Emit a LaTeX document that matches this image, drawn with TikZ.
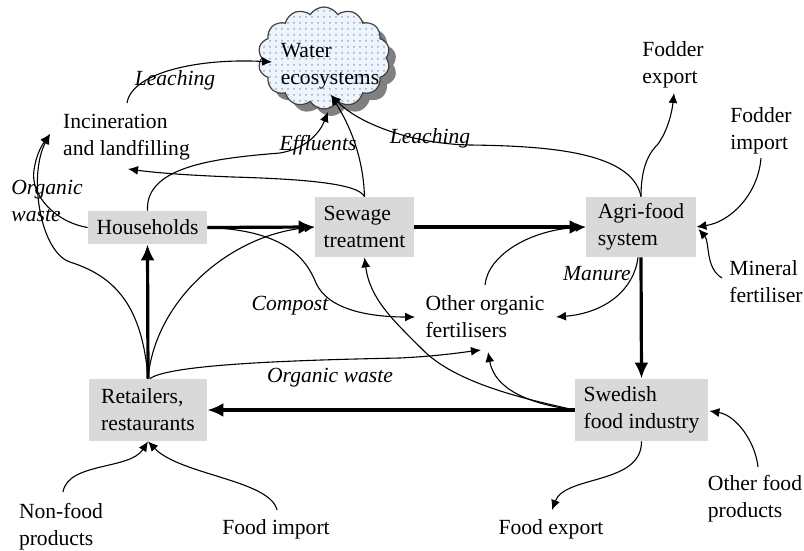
\documentclass[tikz,border=0pt]{standalone}
\usepackage{fontspec}
\setmainfont{Liberation Serif}
\usetikzlibrary{arrows.meta,shapes.symbols,patterns}
\definecolor{boxgrey}{gray}{0.85}
\definecolor{cloudfill}{RGB}{238,244,252}
\definecolor{clouddot}{RGB}{150,170,200}
\definecolor{shadowgrey}{gray}{0.5}
\begin{document}
\begin{tikzpicture}[x=0.5pt,y=-0.5pt,
  every node/.style={font=\fontsize{10.8pt}{13.5pt}\selectfont, inner sep=0pt, align=left},
  box/.style={fill=boxgrey},
  lab/.style={font=\fontsize{10.8pt}{13.5pt}\selectfont\itshape},
  cloudshape/.style={cloud, cloud puffs=14, cloud puff arc=115, cloud ignores aspect,
    minimum width=66pt, minimum height=51pt},
  flow/.style={line width=0.55pt, -{Latex[length=5pt,width=4.5pt]}},
  mainflow/.style={line width=1.6pt, -{Latex[length=8pt,width=7pt]}}]
\useasboundingbox (0,0) rectangle (804,551);

% cloud
\node[cloudshape, fill=shadowgrey] (watershadow) at (331,65) {};
\node[cloudshape, draw=black!75, line width=0.6pt, preaction={fill=cloudfill},
  pattern=dots, pattern color=clouddot] (water) at (324,58) {};
\node (watertext) at (330,66) {Water\\ecosystems};

% boxes
\node[box, minimum width=59.5pt, minimum height=16.5pt] (households) at (147.5,227.5) {Households};
\node[box, minimum width=49.5pt, minimum height=30pt] (sewage) at (364.5,227) {Sewage\\treatment};
\node[box, minimum width=55pt, minimum height=30pt] (agri) at (641,227) {Agri-food\\system};
\node[box, minimum width=59pt, minimum height=31pt] (retailers) at (148,410) {Retailers,\\restaurants};
\node[box, minimum width=66.5pt, minimum height=31pt] (swedish) at (641.5,410) {Swedish\\food industry};

% plain texts
\node (incin) at (126.5,137.5) {Incineration\\and landfilling};
\node (fodderexp) at (673,65) {Fodder\\export};
\node (fodderimp) at (761,131) {Fodder\\import};
\node (mineral) at (766,282) {Mineral\\fertiliser};
\node (otherorg) at (485,317) {Other organic\\fertilisers};
\node (nonfood) at (61,527) {Non-food\\products};
\node (foodimp) at (276,529) {Food import};
\node (foodexp) at (551,529) {Food export};
\node (otherfood) at (755,499) {Other food\\products};

% labels
\node[lab] (leach1) at (175,80) {Leaching};
\node[lab] (effl) at (318,145) {Effluents};
\node[lab] (leach2) at (430,138) {Leaching};
\node[lab] (orgw1) at (47,201) {Organic\\waste};
\node[lab] (manure) at (597,274) {Manure};
\node[lab] (compost) at (290,306) {Compost};
\node[lab] (orgw2) at (330,378) {Organic waste};

% thin flows
\draw[flow] ([shift={(0.5,-34.5)}]incin.center) .. controls (132,72) and (200,58) .. ([shift={(-52,4)}]water.center);
\draw[flow] (households.north) .. controls (145,165) and (220,158) .. (280,153) .. controls (308,148) and (320,132) .. ([shift={(4,54)}]water.center);
\draw[flow] (sewage.north) .. controls (363,150) and (345,118) .. ([shift={(7,37)}]water.center);
\draw[flow] (agri.north) .. controls (632,150) and (540,146) .. (470,145) .. controls (415,144) and (360,125) .. ([shift={(7,37)}]water.center);
\draw[flow] (sewage.north) .. controls (358,183) and (300,179) .. (233,177) .. controls (180,175) and (150,172) .. ([shift={(1.5,31.5)}]incin.center);
\draw[flow] (retailers.north) .. controls (142,300) and (110,275) .. (70,262) .. controls (40,252) and (28,175) .. ([shift={(-76.5,-3.5)}]incin.center);
\draw[flow] (households.west) .. controls (55,222) and (30,195) .. (34,170) .. controls (36,155) and (42,145) .. ([shift={(-76.5,-3.5)}]incin.center);
\draw[flow] (agri.north) .. controls (641,165) and (650,152) .. (658,144) .. controls (668,130) and (672,112) .. ([shift={(1,28)}]fodderexp.center);
\draw[flow] ([shift={(0,27)}]fodderimp.center) .. controls (758,195) and (730,222) .. (agri.east);
\draw[flow] ([shift={(-44,-4)}]mineral.center) .. controls (705,268) and (710,242) .. ([shift={(2,2)}]agri.east);
\draw[flow] ([shift={(0,-32)}]otherorg.center) .. controls (488,255) and (530,230) .. (agri.west);
\draw[flow] ([shift={(-3,0)}]agri.south) .. controls (634,290) and (605,313) .. ([shift={(71,0)}]otherorg.center);
\draw[flow] (households.east) .. controls (280,230) and (305,255) .. (316,283) .. controls (328,310) and (370,317) .. ([shift={(-70,0)}]otherorg.center);
\draw[flow] (retailers.north) .. controls (155,300) and (230,235) .. (sewage.west);
\draw[flow] ([shift={(2,0)}]retailers.north) .. controls (170,364) and (300,360) .. (400,358) .. controls (440,356) and (465,352) .. ([shift={(-4,33)}]otherorg.center);
\draw[flow] (swedish.west) .. controls (530,400) and (460,385) .. (425,352) .. controls (395,322) and (370,300) .. (sewage.south);
\draw[flow] (swedish.west) .. controls (530,404) and (495,390) .. ([shift={(3,35)}]otherorg.center);
\draw[flow] ([shift={(2,-35)}]nonfood.center) .. controls (68,462) and (130,470) .. (retailers.south);
\draw[flow] ([shift={(1,-19)}]foodimp.center) .. controls (270,480) and (180,475) .. (retailers.south);
\draw[flow] (swedish.south) .. controls (642,485) and (565,475) .. ([shift={(1,-19)}]foodexp.center);
\draw[flow] ([shift={(3,-32)}]otherfood.center) .. controls (755,440) and (735,415) .. ([shift={(1,1)}]swedish.east);

% main flows
\draw[mainflow] (households.east) -- (sewage.west);
\draw[mainflow] (sewage.east) -- (agri.west);
\draw[mainflow] (agri.south) -- (swedish.north);
\draw[mainflow] (swedish.west) -- (retailers.east);
\draw[mainflow] (retailers.north) -- (households.south);
\end{tikzpicture}
\end{document}
